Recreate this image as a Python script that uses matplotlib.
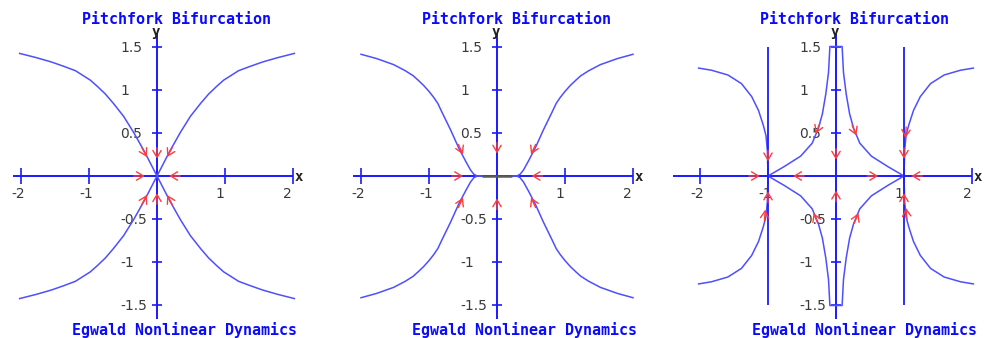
import matplotlib
matplotlib.use("Agg")
import matplotlib.pyplot as plt
import numpy as np

# Phase portraits of x' = mu*x - x^3, y' = -y for three values of mu
panel_mu = [-1, 0, 1]

title_top = "Pitchfork Bifurcation"
title_bottom = "Egwald Nonlinear Dynamics"

x_ticks = [-2, -1, 1, 2]
x_tick_labels = ["-2", "-1", "1", "2"]
y_ticks = [-1.5, -1, -0.5, 0.5, 1, 1.5]
y_tick_labels = ["-1.5", "-1", "-0.5", "0.5", "1", "1.5"]

# extent of the drawn coordinate axes in each panel
x_axis_start = [-2.12, -2.12, -2.4]
x_axis_end = [2.0, 2.0, 2.0]
y_axis_range = (-1.66, 1.65)

# first-quadrant branches of the trajectories (mirrored into the other quadrants)
p1_curve_x = [0.0, 0.19, 0.34, 0.49, 0.64, 0.76, 0.88, 0.98, 1.08, 1.2, 1.37, 1.55, 1.77, 2.02]
p1_curve_y = [0.0, 0.29, 0.50, 0.69, 0.84, 0.95, 1.04, 1.11, 1.16, 1.22, 1.27, 1.32, 1.37, 1.42]

p2_curve_x = [0.22, 0.29, 0.34, 0.39, 0.46, 0.56, 0.68, 0.81, 0.87, 0.93, 1.0, 1.08,
              1.16, 1.23, 1.35, 1.52, 1.77, 2.0]
p2_curve_y = [0.0, 0.0, 0.02, 0.07, 0.17, 0.32, 0.53, 0.74, 0.84, 0.91, 0.98, 1.05,
              1.11, 1.16, 1.22, 1.29, 1.36, 1.41]
p2_slow_segment = (-0.22, 0.22)

p3_inner_x = [0.0, 0.09, 0.11, 0.15, 0.2, 0.26, 0.35, 0.52, 0.76, 1.0]
p3_inner_y = [1.5, 1.5, 1.2, 0.95, 0.72, 0.55, 0.38, 0.23, 0.11, 0.0]
p3_outer_x = [1.0, 1.01, 1.03, 1.07, 1.14, 1.24, 1.39, 1.59, 1.83, 2.02]
p3_outer_y = [0.0, 0.3, 0.47, 0.59, 0.76, 0.92, 1.07, 1.17, 1.225, 1.25]
p3_invariant_x = [-1.0, 1.0]
p3_invariant_y = (-1.5, 1.5)

# direction markers: tip x, tip y, flow direction dx, dy
p1_arrows = [
    (-0.15, 0.22, 1, -1.5), (0.15, 0.22, -1, -1.5),
    (-0.15, -0.22, 1, 1.5), (0.15, -0.22, -1, 1.5),
    (0.0, 0.2, 0, -1), (0.0, -0.2, 0, 1),
    (-0.18, 0.0, 1, 0), (0.18, 0.0, -1, 0),
]
p2_arrows = [
    (-0.5, 0.25, 1, -1.7), (0.5, 0.25, -1, -1.7),
    (-0.5, -0.25, 1, 1.7), (0.5, -0.25, -1, 1.7),
    (0.0, 0.26, 0, -1), (0.0, -0.26, 0, 1),
    (-0.5, 0.0, 1, 0), (0.51, 0.0, -1, 0),
]
p3_arrows = [
    (0.0, 0.19, 0, -1), (0.0, -0.17, 0, 1),
    (-0.63, 0.0, -1, 0), (0.62, 0.0, 1, 0),
    (-1.12, 0.0, 1, 0), (1.11, 0.0, -1, 0),
    (-1.0, 0.17, 0, -1), (-1.0, -0.18, 0, 1),
    (1.0, 0.2, 0, -1), (1.0, -0.2, 0, 1),
    (1.02, 0.44, -0.1, -1), (1.03, -0.37, -0.1, 1), (-1.04, -0.39, 0.1, 1),
    (-0.3, 0.49, -1, -1.9), (0.3, 0.47, 1, -1.9),
    (-0.33, -0.43, -1, 1.9), (0.33, -0.43, 1, 1.9),
]
panel_arrows = [p1_arrows, p2_arrows, p3_arrows]

# colours and styling
AXIS_BLUE = "#1a1aff"
CURVE_BLUE = "#4f4fff"
ARROW_RED = "#ff3c3c"
LABEL_GRAY = "#3a3a3a"
SLOW_GRAY = "#5a5a5a"
TITLE_BLUE = "#0a0aff"

W, H, DPI = 987, 338, 100
X_SCALE, Y_SCALE = 68.0, 86.33          # pixels per data unit
ORIGIN_X = [157, 497, 836]
ORIGIN_Y = 176
XLIM = (-2.5, 2.3)
YLIM = (-1.95, 1.95)

fig = plt.figure(figsize=(W / DPI, H / DPI), dpi=DPI)
fig.patch.set_facecolor("white")


def mirror(ax, xs, ys, **kw):
    xs = np.asarray(xs)
    ys = np.asarray(ys)
    for sx in (1, -1):
        for sy in (1, -1):
            ax.plot(sx * xs, sy * ys, **kw)


def draw_arrow(ax, x, y, dx, dy, length=11):
    p0 = ax.transData.transform((x, y))
    p1 = ax.transData.transform((x + dx * 0.01, y + dy * 0.01))
    v = p1 - p0
    v = v / np.hypot(*v)
    ax.annotate("", xy=(x, y), xycoords="data",
                xytext=(-v[0] * length, -v[1] * length), textcoords="offset pixels",
                arrowprops=dict(arrowstyle="->,head_length=0.5,head_width=0.3",
                                color=ARROW_RED, lw=1.0, shrinkA=0, shrinkB=0),
                zorder=5)


for i, ox in enumerate(ORIGIN_X):
    left_px = ox - X_SCALE * (0 - XLIM[0])
    bottom_px = (H - ORIGIN_Y) - Y_SCALE * (0 - YLIM[0])
    ax = fig.add_axes([left_px / W, bottom_px / H,
                       X_SCALE * (XLIM[1] - XLIM[0]) / W,
                       Y_SCALE * (YLIM[1] - YLIM[0]) / H])
    ax.set_xlim(*XLIM)
    ax.set_ylim(*YLIM)
    ax.axis("off")

    # coordinate axes
    ax.hlines(0, x_axis_start[i], x_axis_end[i], color=AXIS_BLUE, lw=1.4, zorder=2)
    ax.vlines(0, *y_axis_range, color=AXIS_BLUE, lw=1.4, zorder=2)
    ax.vlines(x_ticks, -0.09, 0.09, color=AXIS_BLUE, lw=1.2, zorder=2)
    ax.hlines(y_ticks, -0.08, 0.08, color=AXIS_BLUE, lw=1.2, zorder=2)

    for t, lab in zip(x_ticks, x_tick_labels):
        ax.annotate(lab, xy=(t, 0), xytext=(-9.5, -22), textcoords="offset pixels",
                    ha="left", va="baseline", fontsize=10, color=LABEL_GRAY,
                    family="DejaVu Sans", zorder=1)
    for t, lab in zip(y_ticks, y_tick_labels):
        ax.annotate(lab, xy=(0, t), xytext=(-37, -5), textcoords="offset pixels",
                    ha="left", va="baseline", fontsize=10, color=LABEL_GRAY,
                    family="DejaVu Sans", zorder=1)

    ax.annotate("x", xy=(x_axis_end[i], 0), xytext=(6, -1), textcoords="offset pixels",
                ha="center", va="center", fontsize=10, fontweight="bold",
                family="DejaVu Sans Mono", color="#202020")
    ax.annotate("y", xy=(0, y_axis_range[1]), xytext=(-1.5, 1.5), textcoords="offset pixels",
                ha="center", va="center", fontsize=10, fontweight="bold",
                family="DejaVu Sans Mono", color="#202020")

    ax.annotate(title_top, xy=(0, 0), xytext=(19, 157), textcoords="offset pixels",
                ha="center", va="center", fontsize=10.8, fontweight="bold",
                family="DejaVu Sans Mono", color=TITLE_BLUE)
    ax.annotate(title_bottom, xy=(0, 0), xytext=(28, -154.5), textcoords="offset pixels",
                ha="center", va="center", fontsize=10.8, fontweight="bold",
                family="DejaVu Sans Mono", color=TITLE_BLUE)

    # trajectories
    style = dict(color=CURVE_BLUE, lw=1.1, zorder=3, solid_joinstyle="round")
    if panel_mu[i] < 0:
        mirror(ax, p1_curve_x, p1_curve_y, **style)
    elif panel_mu[i] == 0:
        mirror(ax, p2_curve_x, p2_curve_y, **style)
        ax.hlines(0, *p2_slow_segment, color=SLOW_GRAY, lw=1.8, zorder=4)
    else:
        mirror(ax, p3_inner_x, p3_inner_y, **style)
        mirror(ax, p3_outer_x, p3_outer_y, **style)
        ax.vlines(p3_invariant_x, *p3_invariant_y, color=AXIS_BLUE, lw=1.3, zorder=3)

    for (x, y, dx, dy) in panel_arrows[i]:
        draw_arrow(ax, x, y, dx, dy)

fig.savefig("out.png", dpi=DPI, facecolor="white")
